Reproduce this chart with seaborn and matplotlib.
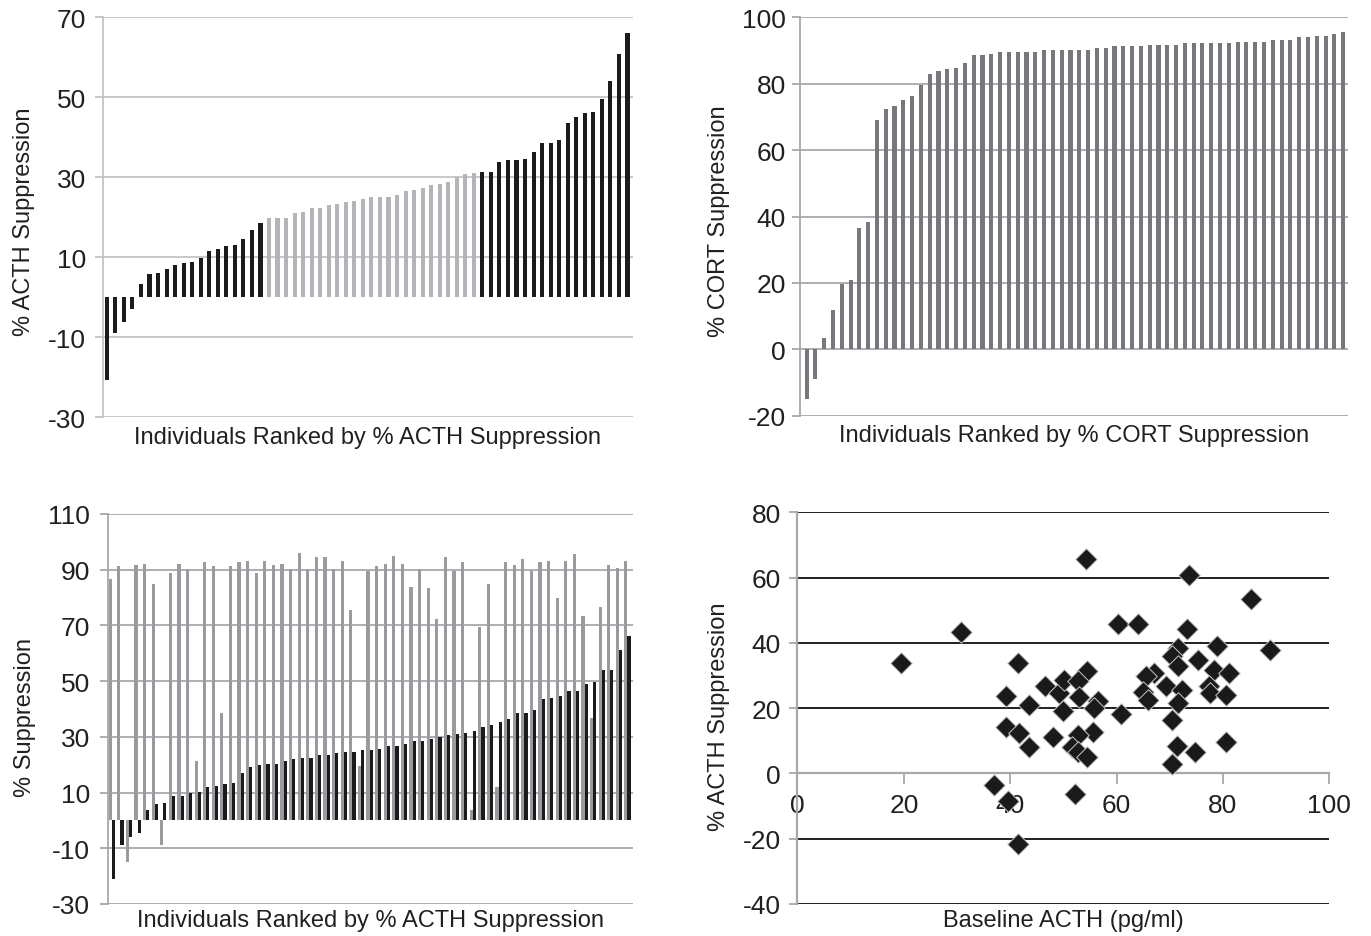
import numpy as np
import pandas as pd
import matplotlib
matplotlib.use("Agg")
import matplotlib.pyplot as plt
import seaborn as sns

# ---------------- data ----------------
# Panel A: % ACTH suppression, individuals ranked
acth_ranked = [-20.7, -8.9, -6.2, -3.0, 3.3, 5.8, 6.0, 6.9, 8.1, 8.5, 8.7, 9.7, 11.5, 12.1, 12.8, 13.1, 14.4, 16.7, 18.5,
               19.8, 19.8, 19.8, 20.9, 21.3, 22.2, 22.2, 22.9, 23.3, 23.7, 24.0, 24.5, 24.9,
               25.1, 25.1, 25.5, 26.4, 26.8, 27.2, 27.9, 28.3, 28.7, 30.0, 30.8, 31.1,
               31.2, 31.2, 33.8, 34.2, 34.2, 34.6, 36.2, 38.6, 38.6, 39.2, 43.6, 44.9, 45.9, 46.3, 49.5, 54.1, 60.8, 65.9]
acth_group = ["tail"] * 19 + ["middle"] * 25 + ["tail"] * 18

# Panel B: % CORT suppression, individuals ranked
cort_ranked = [-15.0, -9.0, 3.3, 11.7, 19.7, 21.0, 36.5, 38.2, 69.0, 72.3, 73.2, 75.0, 76.3, 79.7, 82.8,
               83.8, 84.3, 84.8, 86.2, 88.5, 88.5, 89.0, 89.5, 89.5, 89.5, 89.5, 89.5, 90.3, 90.3, 90.3,
               90.3, 90.3, 90.3, 90.8, 90.8, 91.3, 91.3, 91.3, 91.3, 91.8, 91.8, 91.8, 91.8,
               92.2, 92.2, 92.2, 92.2, 92.2, 92.2, 92.7, 92.7, 92.7, 92.7, 93.2, 93.2, 93.2,
               94.0, 94.0, 94.5, 94.5, 95.0, 95.5]

# Panel C: paired ACTH (black) and CORT (grey) suppression, ranked by ACTH
acth_pair = [-21.2, -8.7, -6.0, -4.5, 3.8, 5.8, 6.4, 8.6, 8.6, 9.8, 10.2, 11.9, 12.5, 13.1, 13.6, 17.1, 19.3, 19.8, 20.2, 20.2, 21.4,
             21.9, 22.5, 22.5, 23.5, 23.5, 24.3, 24.6, 24.6, 25.2, 25.2, 25.8, 26.8, 26.8, 27.4, 28.5, 28.5, 29.2, 30.0, 30.8, 31.2,
             31.4, 32.0, 33.6, 34.4, 35.4, 36.3, 38.6, 38.6, 39.8, 43.5, 44.0, 44.6, 46.3, 46.3, 49.0, 49.6, 54.0, 54.0, 61.3, 66.3]
cort_pair = [86.5, 91.3, -15.0, 91.7, 92.1, 85.0, -8.7, 88.9, 92.1, 90.1, 21.4, 92.9, 91.3, 38.6, 91.3, 92.9, 93.3, 88.9, 93.3, 91.7, 92.1,
             90.1, 96.1, 90.1, 94.5, 94.5, 90.1, 93.3, 75.5, 19.6, 89.5, 91.3, 92.1, 94.9, 92.1, 83.8, 90.1, 83.3, 72.3, 94.5, 89.5,
             92.9, 3.6, 69.5, 85.0, 11.9, 92.9, 91.7, 94.0, 89.5, 92.9, 93.3, 80.0, 93.3, 95.5, 73.5, 36.9, 76.7, 91.7, 90.5, 93.3]

# Panel D: baseline ACTH vs % ACTH suppression
baseline_acth = [19.4, 30.8, 41.4, 39.2, 43.5, 39.2, 41.6, 43.5, 46.6, 48.0, 49.2, 50.2, 50.0, 37.0, 39.5, 41.4,
                 54.2, 73.6, 85.2, 60.3, 64.1, 73.3, 78.9, 88.9, 71.6, 70.5, 71.6, 75.3, 78.3, 81.1, 67.0, 65.6,
                 69.3, 72.3, 77.3, 77.6, 80.5, 65.0, 66.0, 71.6, 60.8, 70.5, 71.4, 74.7, 80.6, 70.5, 52.2,
                 54.5, 52.7, 53.0, 56.6, 55.8, 55.5, 52.7, 51.7, 52.7, 54.5]
acth_supp = [33.8, 43.3, 33.8, 23.8, 21.0, 14.1, 12.3, 8.2, 26.7, 11.3, 24.6, 28.7, 19.2, -3.4, -8.5, -21.5,
             65.6, 60.7, 53.5, 45.8, 45.8, 44.3, 39.0, 37.9, 38.5, 35.9, 32.8, 34.6, 31.8, 30.8, 30.8, 29.7,
             26.7, 25.6, 26.7, 24.6, 24.1, 25.1, 22.6, 21.5, 18.2, 16.4, 8.5, 6.7, 9.5, 2.8, -6.2,
             31.3, 28.2, 23.3, 22.1, 20.0, 12.8, 11.8, 8.2, 6.7, 5.1]

# ---------------- style ----------------
sns.set_theme(style="white")
plt.rcParams['font.family'] = ['Liberation Sans', 'DejaVu Sans']
plt.rcParams['axes.unicode_minus'] = False

TXT = '#231f20'
W, H = 1371, 937
fig = plt.figure(figsize=(W / 100, H / 100), dpi=100)


def axes_px(l, t, r, b):
    return fig.add_axes([l / W, 1 - b / H, (r - l) / W, (b - t) / H])


def style_bar_ax(ax, ylim, yticks, gcol, pad):
    ax.set_ylim(*ylim)
    ax.set_yticks(yticks)
    ax.grid(axis='y', color=gcol, lw=1.3)
    ax.grid(axis='x', visible=False)
    ax.set_axisbelow(True)
    for s in ['top', 'right', 'bottom']:
        ax.spines[s].set_visible(False)
    ax.spines['left'].set_color(gcol)
    ax.spines['left'].set_linewidth(1.3)
    ax.tick_params(axis='y', left=True, length=6, width=1.3, color=gcol,
                   labelsize=19, pad=pad, labelcolor=TXT)
    ax.tick_params(axis='x', bottom=False, labelbottom=False)


ax1 = axes_px(103, 18, 633, 418)
ax2 = axes_px(800, 18.3, 1348, 416.7)
ax3 = axes_px(108.3, 515, 633, 905)
ax4 = axes_px(797.5, 513.3, 1329.3, 905)

nobar_edge = dict(linewidth=0, edgecolor='none')

# Panel A
df1 = pd.DataFrame({'rank': np.arange(len(acth_ranked)), 'val': acth_ranked, 'grp': acth_group})
sns.barplot(data=df1, x='rank', y='val', hue='grp', dodge=False, width=0.48,
            palette={'tail': '#1c1a1b', 'middle': '#b4b5b9'}, saturation=1,
            errorbar=None, legend=False, ax=ax1, **nobar_edge)
style_bar_ax(ax1, (-30, 70), [-30, -10, 10, 30, 50, 70], '#c4c4c6', 6)
ax1.set_xlim(-0.45, 61.65)

# Panel B
df2 = pd.DataFrame({'rank': np.arange(len(cort_ranked)), 'val': cort_ranked})
sns.barplot(data=df2, x='rank', y='val', color='#77787c', saturation=1, width=0.47,
            errorbar=None, ax=ax2, **nobar_edge)
style_bar_ax(ax2, (-20, 100), [-20, 0, 20, 40, 60, 80, 100], '#a7a8ab', 4)
ax2.set_xlim(-0.75, 61.55)

# Panel C
n3 = len(acth_pair)
df3 = pd.DataFrame({'rank': np.tile(np.arange(n3), 2),
                    'val': list(cort_pair) + list(acth_pair),
                    'series': ['CORT'] * n3 + ['ACTH'] * n3})
sns.barplot(data=df3, x='rank', y='val', hue='series', hue_order=['CORT', 'ACTH'],
            palette={'CORT': '#9a9b9f', 'ACTH': '#1c1a1b'}, saturation=1, width=0.74,
            errorbar=None, legend=False, ax=ax3, **nobar_edge)
style_bar_ax(ax3, (-30, 110), [-30, -10, 10, 30, 50, 70, 90, 110], '#a7a8ab', 7)
ax3.set_xlim(-0.4, n3 - 0.36)

# Panel D
sns.scatterplot(x=baseline_acth, y=acth_supp, marker='D', s=120, color='#1a1a1a',
                edgecolor='#c8c8c8', linewidth=0.7, ax=ax4, zorder=3)
ax4.set_xlim(0, 100)
ax4.set_ylim(-40, 80)
ax4.set_xticks([0, 20, 40, 60, 80, 100])
ax4.set_yticks([-40, -20, 0, 20, 40, 60, 80])
ax4.grid(axis='y', color='#231f20', lw=1.4)
ax4.grid(axis='x', visible=False)
ax4.set_axisbelow(True)
for s in ['top', 'right']:
    ax4.spines[s].set_visible(False)
ax4.spines['bottom'].set_position(('data', 0))
for s in ['left', 'bottom']:
    ax4.spines[s].set_color('#a7a8ab')
    ax4.spines[s].set_linewidth(1.6)
ax4.tick_params(axis='y', left=True, length=6, width=1.3, color='#a7a8ab',
                labelsize=19, pad=6, labelcolor=TXT)
ax4.tick_params(axis='x', bottom=True, length=8, width=1.3, color='#a7a8ab',
                labelsize=19, pad=6, labelcolor=TXT)

# Labels
lab = dict(fontsize=17, color=TXT)
ax1.set_xlabel('Individuals Ranked by % ACTH Suppression', **lab)
ax1.xaxis.set_label_coords(0.5, -0.022)
ax1.set_ylabel('% ACTH Suppression', **lab)
ax1.yaxis.set_label_coords(-0.128, 0.49)

ax2.set_xlabel('Individuals Ranked by % CORT Suppression', **lab)
ax2.xaxis.set_label_coords(0.5, -0.022)
ax2.set_ylabel('% CORT Suppression', **lab)
ax2.yaxis.set_label_coords(-0.128, 0.49)

ax3.set_xlabel('Individuals Ranked by % ACTH Suppression', **lab)
ax3.xaxis.set_label_coords(0.5, -0.012)
ax3.set_ylabel('% Suppression', **lab)
ax3.yaxis.set_label_coords(-0.138, 0.48)

ax4.set_xlabel('Baseline ACTH (pg/ml)', **lab)
ax4.xaxis.set_label_coords(0.5, -0.012)
ax4.set_ylabel('% ACTH Suppression', **lab)
ax4.yaxis.set_label_coords(-0.127, 0.48)

fig.savefig('out.png', dpi=100)
